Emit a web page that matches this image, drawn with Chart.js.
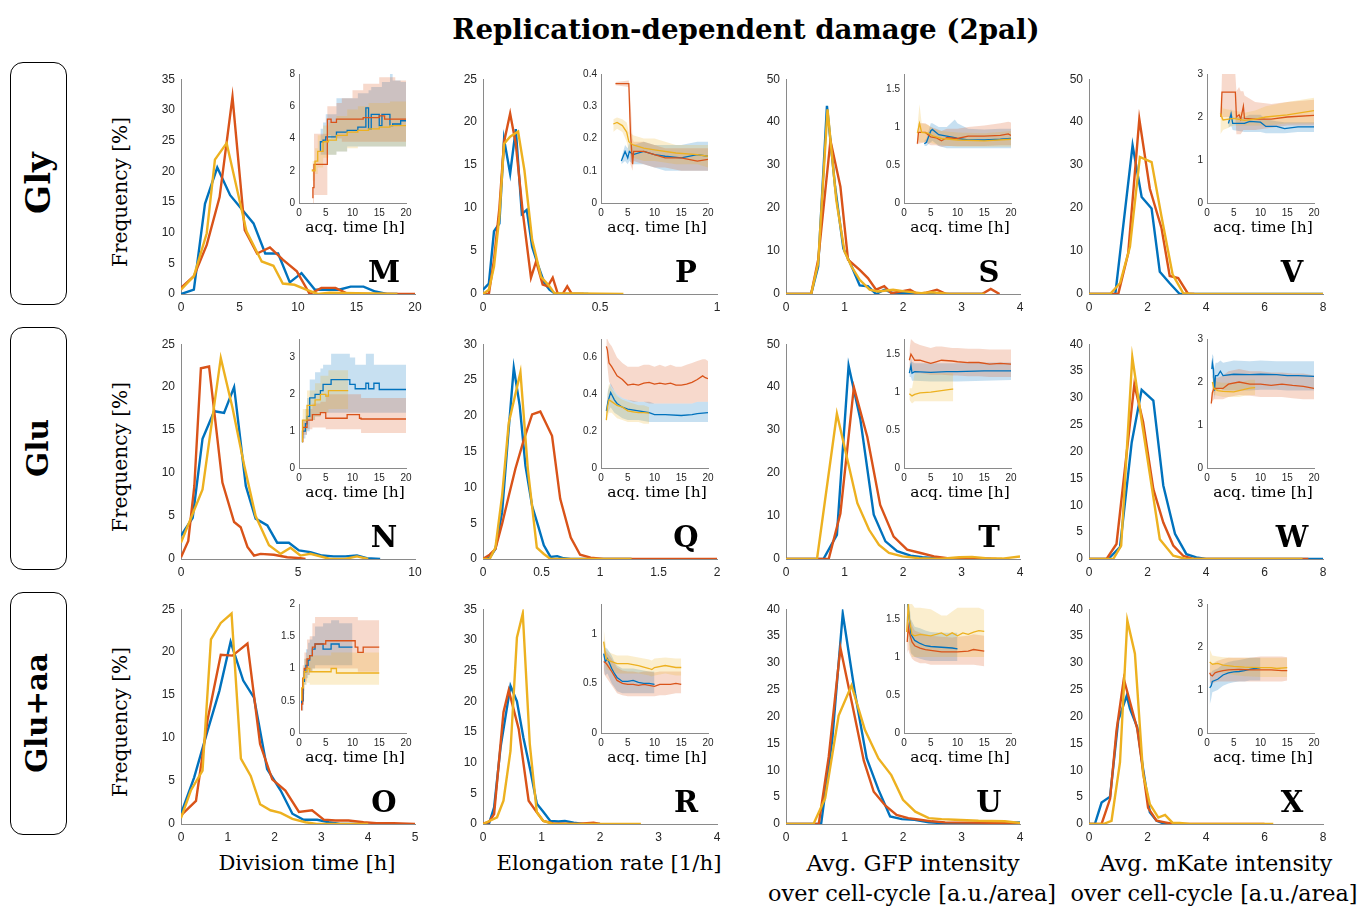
<!DOCTYPE html>
<html lang="en">
<head>
<meta charset="UTF-8">
<title>Replication-dependent damage (2pal)</title>
<script src="https://cdn.jsdelivr.net/npm/chart.js"></script>
<style>
  body { margin: 0; background: #fff; }
  #fig { position: relative; width: 1360px; height: 907px; overflow: hidden; }
  .txt { position: absolute; transform: translate(-50%, -50%); white-space: nowrap;
         font-family: 'DejaVu Serif', serif; color: #000; line-height: 1; }
  .rot { transform: translate(-50%, -50%) rotate(-90deg); }
  .bold { font-weight: bold; }
  .box { position: absolute; border: 1px solid #000; border-radius: 13px; box-sizing: border-box; }
  canvas { position: absolute; }
</style>
</head>
<body>
<div id="fig"></div>
<script>
// colours: blue, orange, yellow (matlab defaults)
const COLORS = ['#0072BD', '#D95319', '#EDB120'];
const BANDS = ['rgba(0,114,189,0.22)', 'rgba(217,83,25,0.22)', 'rgba(237,177,32,0.22)'];

const rowNames = ['Gly', 'Glu', 'Glu+aa'];

// ---- main histograms, [x, frequency %] ----
const M_blue = [[0,0],[1.1,0.7],[2.05,14.7],[3.1,20.6],[4.2,16.1],[5.25,13.7],[6.2,11.5],[7.2,6.6],[8.3,6.6],[9.3,1.9],[10.3,3.4],[11.45,0.7],[12.4,0.7],[13.5,0.7],[14.5,1.2],[15.6,1.2],[16.6,0.4],[17.6,0],[18.5,0]];
const M_orange = [[0,1],[1.1,2.9],[2.2,8],[3.3,15.8],[4.4,32.1],[5.45,10.4],[6.5,6.6],[7.6,7.6],[8.7,5.6],[9.9,3.7],[11,0],[12,1],[13.2,1],[14.3,0],[20,0]];
const M_yellow = [[0,0.7],[1.1,2.9],[2.2,9.9],[2.9,21.9],[3.9,24.6],[5.6,10.2],[6.5,6.8],[6.9,5.3],[7.9,4.6],[8.7,1.7],[9.7,1.5],[10.7,0.7],[11.7,0],[12.7,0.2],[18.5,0]];

const P_blue = [[0,0.5],[0.025,1.2],[0.047,7.3],[0.07,8.2],[0.09,18],[0.116,14],[0.14,19.2],[0.166,9.3],[0.187,9.8],[0.21,5.5],[0.237,3.2],[0.262,1.3],[0.284,0.5],[0.31,0],[0.45,0]];
const P_orange = [[0,0],[0.025,0],[0.047,4],[0.07,10],[0.09,17.7],[0.116,21],[0.14,17.5],[0.17,9.5],[0.205,1.9],[0.227,3.8],[0.255,1.1],[0.277,0.9],[0.298,1.9],[0.32,0],[0.34,0],[0.36,0.9],[0.38,0],[0.43,0]];
const P_yellow = [[0,0],[0.025,0.5],[0.047,3.2],[0.07,9],[0.09,17.5],[0.116,18.3],[0.15,18.9],[0.177,14.4],[0.21,6.3],[0.248,2],[0.284,0.9],[0.305,0.1],[0.6,0]];

const S_blue = [[0,0],[0.43,0],[0.55,6.4],[0.7,43.8],[0.84,24.9],[0.98,10.6],[1.11,6.8],[1.26,2],[1.4,1.8],[1.54,0],[1.68,1],[1.83,0.2],[2.0,0.3],[2.3,0],[3.4,0]];
const S_orange = [[0,0],[0.43,0],[0.55,8],[0.76,35.7],[0.93,25],[1.06,8],[1.26,5.6],[1.4,3.7],[1.54,1],[1.68,1.8],[1.8,0.2],[1.97,0.6],[2.12,1],[2.25,0],[2.4,0.3],[2.58,1],[2.74,0],[3.35,0],[3.5,1.2],[3.65,0]];
const S_yellow = [[0,0],[0.43,0],[0.55,7.2],[0.71,43],[0.86,21.8],[1.0,9.9],[1.12,6.4],[1.26,3.3],[1.43,1],[1.57,0.6],[1.83,1],[2.03,0.6],[2.31,0.2],[2.48,0.4],[2.8,0],[3.4,0]];

const V_blue = [[0,0],[0.9,0],[1.49,34.6],[1.8,22.6],[2.14,19.9],[2.42,5.2],[2.76,2.5],[3.1,0],[8,0]];
const V_orange = [[0,0],[1.0,0],[1.34,9.5],[1.72,40.7],[2.08,24.5],[2.48,15.3],[2.76,4.2],[3.05,3.7],[3.39,0],[3.6,0]];
const V_yellow = [[0,0],[0.72,0],[1.06,2.5],[1.4,11],[1.74,31.9],[2.14,30.7],[2.48,18],[2.86,4.5],[3.22,0.2],[3.56,0],[8,0]];

const N_blue = [[0,2.7],[0.5,4.8],[0.92,14],[1.42,17.2],[1.84,17],[2.27,20],[2.77,8.5],[3.19,4.7],[3.69,3.9],[4.11,1.9],[4.61,1.9],[5.04,1],[5.53,0.8],[6.03,0.4],[6.52,0.3],[7.02,0.3],[7.52,0.4],[7.94,0.1],[8.51,0]];
const N_orange = [[0,0.2],[0.31,2.1],[0.57,8.5],[0.85,22.2],[1.2,22.4],[1.77,8.9],[2.27,4.3],[2.55,3.7],[2.84,1.4],[3.12,0.4],[3.4,0.6],[3.97,0.5],[4.54,0.2],[5.1,0.1],[5.32,0]];
const N_yellow = [[0,1.9],[0.43,4.8],[0.92,8.1],[1.7,23.4],[2.2,17.6],[2.7,10.9],[3.19,5],[3.76,1.6],[4.26,0.6],[4.68,1.3],[5.1,0.4],[5.53,0.6],[6.38,0],[7.0,0],[7.52,0.3],[8.0,0]];

const Q_blue = [[0,0],[0.057,0.2],[0.106,1.4],[0.163,6.5],[0.214,17],[0.263,26.7],[0.314,21.4],[0.363,13],[0.42,7.4],[0.47,4.7],[0.52,1.9],[0.577,0.3],[0.634,0.4],[0.69,0.1],[0.75,0],[1.27,0]];
const Q_orange = [[0,0],[0.057,0.6],[0.106,1.4],[0.163,4.9],[0.22,8.8],[0.277,12.6],[0.35,16.7],[0.42,20.2],[0.49,20.6],[0.59,17.2],[0.66,8.4],[0.75,3],[0.83,0.6],[0.92,0.2],[1.03,0],[2,0]];
const Q_yellow = [[0,0],[0.057,0],[0.106,1.6],[0.163,8.8],[0.22,19],[0.32,26.1],[0.383,12.6],[0.46,1.6],[0.52,0.7],[0.577,0],[1.27,0]];

const T_blue = [[0,0],[0.64,0],[0.87,5.6],[1.07,45],[1.27,32.6],[1.5,10.3],[1.7,4.1],[1.9,1.8],[2.13,0.8],[2.33,0.4],[2.56,0.2],[2.8,0],[3.5,0]];
const T_orange = [[0,0],[0.73,0],[0.93,10.6],[1.16,40],[1.39,28.4],[1.61,12.6],[1.84,5.2],[2.07,2.2],[2.3,1.4],[2.53,0.6],[2.76,0.2],[3.0,0.2],[3.3,0.1],[3.6,0]];
const T_yellow = [[0,0],[0.53,0],[0.87,33.8],[1.22,13],[1.42,6.8],[1.59,3.3],[1.76,1.4],[1.99,0.6],[2.27,0.2],[2.61,0],[2.96,0.4],[3.18,0.5],[3.41,0.2],[3.7,0.1],[4,0.6]];

const W_blue = [[0,0],[0.66,0],[1.06,2.2],[1.46,21.7],[1.8,31.5],[2.2,29.5],[2.54,13.7],[2.94,4.7],[3.33,0.9],[3.67,0.3],[4.0,0],[8,0]];
const W_orange = [[0,0],[0.6,0],[0.94,2.8],[1.55,32.5],[1.85,25.5],[2.2,13],[2.54,6.8],[2.88,2.5],[3.22,0.6],[3.56,0],[7.5,0]];
const W_yellow = [[0,0],[0.83,0],[1.1,2.5],[1.48,37.6],[1.8,25.8],[2.42,3.7],[2.88,0.6],[3.33,0],[7.3,0]];

const O_blue = [[0,1.2],[0.28,5.4],[0.57,10.9],[0.82,15.5],[1.06,21.2],[1.33,16.7],[1.56,14.7],[1.84,6.4],[2.13,3.9],[2.38,1.2],[2.62,0.5],[2.91,0.5],[3.16,0.2],[3.4,0],[4,0]];
const O_orange = [[0,1],[0.32,2.7],[0.57,12.2],[0.85,19.7],[1.1,19.6],[1.42,21],[1.69,9.3],[1.95,5.2],[2.23,3.9],[2.52,1.4],[2.8,1.6],[3.05,0.5],[3.3,0.4],[3.58,0.4],[3.9,0.2],[4.18,0.1],[4.54,0.1],[5,0]];
const O_yellow = [[0,0.7],[0.21,3.9],[0.46,6.2],[0.64,21.5],[0.85,23.4],[1.08,24.5],[1.28,7.6],[1.49,5.6],[1.69,2.3],[1.91,1.6],[2.13,1.3],[2.38,0.6],[2.66,0.2],[2.9,0],[4,0]];

const R_blue = [[0,0],[0.1,0],[0.19,2.7],[0.3,12.5],[0.47,22.5],[0.58,20],[0.69,14.1],[0.81,8.7],[0.92,3.3],[1.03,2],[1.15,0.5],[1.29,0.4],[1.4,0.5],[1.55,0.2],[1.72,0],[2.0,0]];
const R_orange = [[0,0.1],[0.1,0.3],[0.19,1.6],[0.35,18.2],[0.44,21.8],[0.61,15.5],[0.78,3.8],[0.92,1.9],[1.03,0.5],[1.2,0.1],[1.6,0],[1.89,0.2],[2.0,0]];
const R_yellow = [[0,0],[0.24,1.1],[0.35,3.8],[0.47,11.9],[0.58,30.4],[0.68,34.3],[0.8,13],[0.92,1.9],[1.03,0.5],[1.2,0],[2.7,0]];

const U_blue = [[0,0],[0.6,0],[0.79,15.6],[0.97,39.2],[1.18,24.3],[1.38,12.2],[1.58,6.4],[1.78,1.4],[1.98,0.9],[2.2,0.8],[2.44,0.3],[3.0,0],[4,0.3]];
const U_orange = [[0,0],[0.56,0],[0.73,12.5],[0.93,32.8],[1.13,22.4],[1.33,11.8],[1.5,6],[1.7,3.4],[1.89,1.7],[2.09,1.1],[2.29,0.8],[2.49,0.5],[2.72,0.3],[3.74,0.2],[4,0]];
const U_yellow = [[0,0],[0.47,0],[0.67,4.8],[0.9,20.2],[1.12,25.8],[1.35,17.5],[1.58,12.2],[1.8,9.1],[2.0,4.5],[2.21,2.3],[2.44,1.1],[2.66,0.9],[2.89,0.8],[3.29,0.6],[3.74,0.5],[4,0.2]];

const X_blue = [[0,0],[0.2,0],[0.43,4],[0.72,5.1],[1.0,19.3],[1.29,23.9],[1.4,21.5],[1.65,18],[1.85,10.2],[2.08,2.2],[2.31,0.6],[2.6,0],[3,0]];
const X_orange = [[0,0],[0.43,0],[0.72,4.7],[0.94,17.4],[1.19,27],[1.65,17.7],[2.02,3],[2.31,0.6],[2.6,0.3],[2.88,0],[6.0,0]];
const X_yellow = [[0,0],[0.49,0],[0.77,0.6],[1.06,11.5],[1.31,37.9],[1.57,31.7],[1.85,9.3],[2.08,3.7],[2.37,1.2],[2.6,1.7],[2.86,0.2],[3.1,0.2],[3.45,0],[6.3,0]];

// ---- insets vs acquisition time: [t (h), mean, lower, upper] ----
const M_in_blue = [[4,3.2,2.8,3.6],[4.5,3.8,3.0,4.6],[5,3.9,3.0,5.0],[7,4.1,3.0,5.5],[9,4.4,3.2,6.5],[11,4.5,3.5,6.5],[12.5,4.7,3.5,6.8],[13,5.9,3.5,6.8],[13.5,4.6,3.5,7.0],[15,5.5,3.5,7.2],[15.5,4.8,3.5,7.2],[17,5.5,3.5,7.5],[17.5,4.8,3.5,8.0],[19,4.9,3.5,7.6],[20,5.1,3.5,7.5]];
const M_in_orange = [[2.6,0.3,0,0.6],[2.8,0.95,0,1.9],[5.3,2.4,0.5,4.3],[6.0,5.2,4.2,6.0],[7,5.0,4.0,6.0],[8,5.2,4.0,6.2],[10,5.2,3.8,6.5],[12,5.2,3.8,7.0],[15,5.3,3.8,7.4],[16,5.4,3.8,7.8],[18,5.2,3.8,7.8],[20,5.2,3.8,7.6]];
const M_in_yellow = [[2.5,2.1,1.6,2.6],[3,2.0,1.4,2.6],[3.5,2.6,1.8,3.4],[4.5,3.2,2.2,4.2],[5.5,3.8,2.8,4.8],[7,3.9,3.0,5.0],[9,4.2,3.2,5.4],[11,4.4,3.4,5.8],[13,4.5,3.5,6.0],[15,4.6,3.5,6.2],[17,4.7,3.5,6.2],[19,4.8,3.5,6.3],[20,4.8,3.5,6.3]];

const P_in_blue = [[3.8,0.13,0.12,0.14],[4.5,0.16,0.13,0.18],[5,0.14,0.12,0.17],[5.3,0.16,0.13,0.19],[6,0.15,0.12,0.18],[8,0.16,0.12,0.19],[10,0.15,0.11,0.18],[12,0.145,0.1,0.18],[15,0.14,0.1,0.18],[18,0.15,0.1,0.19],[20,0.145,0.1,0.19]];
const P_in_orange = [[2.7,0.37,0.365,0.375],[5.2,0.37,0.36,0.38],[5.5,0.22,0.12,0.32],[5.9,0.12,0.1,0.2],[6.1,0.16,0.13,0.19],[8,0.16,0.12,0.19],[10,0.15,0.11,0.18],[12,0.14,0.11,0.17],[15,0.14,0.1,0.17],[18,0.13,0.1,0.17],[20,0.135,0.1,0.17]];
const P_in_yellow = [[2.3,0.245,0.22,0.26],[3,0.25,0.23,0.265],[4,0.24,0.22,0.26],[4.8,0.22,0.19,0.25],[5.2,0.19,0.16,0.22],[6,0.18,0.14,0.21],[8,0.17,0.13,0.2],[10,0.165,0.13,0.2],[14,0.155,0.12,0.18],[18,0.15,0.12,0.18],[20,0.145,0.11,0.18]];

const S_in_blue = [[3.8,0.78,0.75,0.82],[4.2,0.8,0.75,0.85],[5,0.95,0.8,1.05],[5.3,0.97,0.82,1.05],[6.5,0.9,0.75,1.0],[8,0.88,0.72,1.0],[9.5,0.86,0.72,1.1],[10,0.85,0.72,1.05],[12,0.83,0.72,0.98],[15,0.83,0.72,0.97],[18,0.84,0.72,0.98],[20,0.85,0.72,0.98]];
const S_in_orange = [[2.5,0.78,0.76,0.8],[2.7,0.93,0.78,1.05],[4,0.93,0.8,1.05],[5,0.87,0.76,1.0],[6,0.86,0.76,0.98],[7,0.82,0.74,0.95],[8,0.86,0.75,0.98],[10,0.85,0.75,0.98],[12,0.88,0.75,1.0],[15,0.88,0.75,1.02],[18,0.89,0.76,1.05],[19.5,0.91,0.76,1.07],[20,0.89,0.76,1.06]];
const S_in_yellow = [[2.5,0.92,0.85,1.0],[2.9,1.05,0.8,1.3],[3.3,0.93,0.8,1.05],[4.5,0.92,0.8,1.03],[5.5,0.88,0.78,0.98],[7,0.85,0.76,0.95],[10,0.83,0.74,0.93],[15,0.82,0.74,0.92],[20,0.84,0.74,0.95]];

const V_in_blue = [[4,1.85,1.75,1.95],[4.5,2.07,1.8,2.2],[4.8,1.85,1.7,2.0],[7,1.85,1.65,2.0],[8,1.9,1.65,2.05],[10,1.88,1.65,2.05],[11,1.78,1.62,1.95],[13,1.78,1.62,1.9],[14.5,1.73,1.62,1.88],[17,1.77,1.65,1.88],[20,1.77,1.65,1.88]];
const V_in_orange = [[2.6,2.0,1.9,2.1],[2.8,2.58,2.0,3.0],[5.3,2.58,2.0,3.0],[5.5,2.0,1.6,2.6],[6,2.05,1.6,2.7],[6.3,1.95,1.6,2.6],[6.8,2.25,1.7,2.6],[7,1.97,1.7,2.5],[9,1.95,1.7,2.35],[12,1.95,1.75,2.3],[15,2.0,1.8,2.35],[20,2.04,1.8,2.4]];
const V_in_yellow = [[2.5,2.08,1.6,2.5],[3,1.93,1.7,2.2],[5,1.97,1.8,2.15],[7,1.92,1.8,2.1],[9,1.95,1.8,2.15],[11,2.0,1.8,2.25],[15,2.05,1.85,2.35],[20,2.15,1.85,2.45]];

const N_in_blue = [[0.65,0.7,0.6,0.8],[1.2,1.0,0.8,1.3],[1.5,1.2,0.9,1.6],[2,1.4,1.0,1.9],[3,1.9,1.3,2.4],[4,2.0,1.4,2.6],[4.5,2.1,1.5,2.7],[6,2.27,1.5,2.8],[9.5,2.4,1.5,3.1],[10.5,2.27,1.5,3.0],[12.5,2.15,1.5,2.8],[13,2.3,1.5,3.1],[14,2.15,1.5,3.1],[15,2.3,1.5,2.8],[15.5,2.13,1.5,2.8],[20,2.13,1.5,2.8]];
const N_in_orange = [[0.7,0.7,0.6,0.8],[1.5,1.1,0.9,1.3],[2.5,1.3,1.05,1.6],[4,1.45,1.1,1.75],[5,1.5,1.1,1.8],[9,1.35,1.05,2.0],[11.3,1.45,1.05,2.0],[11.6,1.35,1.05,2.0],[20,1.33,0.95,1.9]];
const N_in_yellow = [[0.65,0.7,0.6,0.8],[1.5,1.3,1.0,1.6],[3,1.7,1.3,2.1],[4,1.85,1.4,2.3],[5,2.0,1.5,2.5],[5.5,1.95,1.5,2.5],[6.5,2.1,1.6,2.65],[9.2,2.1,1.6,2.65]];

const Q_in_blue = [[1,0.31,0.3,0.32],[1.3,0.36,0.3,0.42],[1.8,0.41,0.33,0.46],[2.5,0.37,0.3,0.42],[3,0.35,0.29,0.4],[4,0.33,0.27,0.38],[5,0.32,0.26,0.37],[7,0.31,0.26,0.36],[9,0.3,0.25,0.36],[10,0.29,0.25,0.35],[12,0.29,0.25,0.35],[15,0.285,0.25,0.35],[17,0.29,0.25,0.35],[18,0.295,0.25,0.36],[20,0.3,0.25,0.36]];
const Q_in_orange = [[1,0.66,0.6,0.7],[1.2,0.64,0.55,0.7],[1.5,0.57,0.47,0.68],[2,0.55,0.44,0.66],[3,0.5,0.4,0.6],[4,0.48,0.38,0.57],[5,0.45,0.37,0.55],[6,0.455,0.36,0.55],[7,0.45,0.36,0.55],[8,0.46,0.36,0.56],[9,0.465,0.35,0.56],[10,0.455,0.35,0.55],[11,0.46,0.35,0.56],[12,0.455,0.35,0.55],[13,0.46,0.35,0.56],[14,0.45,0.35,0.55],[15,0.45,0.35,0.55],[16,0.455,0.35,0.56],[17,0.465,0.35,0.57],[18,0.48,0.36,0.58],[19,0.5,0.36,0.59],[19.5,0.49,0.36,0.59],[20,0.485,0.36,0.58]];
const Q_in_yellow = [[1,0.26,0.25,0.27],[1.2,0.33,0.28,0.4],[1.5,0.37,0.3,0.46],[2,0.36,0.3,0.43],[3,0.34,0.27,0.39],[4,0.33,0.26,0.37],[5,0.31,0.25,0.36],[6,0.305,0.25,0.35],[7,0.3,0.25,0.34],[8,0.3,0.24,0.34],[9,0.298,0.24,0.33]];

const T_in_blue = [[1,1.25,1.2,1.3],[1.3,1.35,1.2,1.45],[1.5,1.25,1.15,1.4],[2,1.27,1.15,1.38],[5,1.26,1.14,1.38],[8,1.27,1.14,1.38],[10,1.27,1.14,1.38],[15,1.28,1.15,1.39],[20,1.28,1.16,1.39]];
const T_in_orange = [[1,1.42,1.3,1.55],[1.3,1.5,1.3,1.7],[2,1.42,1.25,1.65],[3,1.42,1.25,1.62],[4,1.4,1.24,1.6],[5,1.38,1.23,1.58],[6,1.4,1.23,1.6],[7,1.42,1.23,1.6],[9,1.41,1.22,1.58],[10,1.4,1.22,1.58],[12,1.39,1.21,1.57],[14,1.39,1.21,1.57],[16,1.37,1.2,1.56],[18,1.38,1.2,1.56],[20,1.37,1.2,1.56]];
const T_in_yellow = [[1,0.98,0.9,1.05],[1.5,0.95,0.85,1.05],[2,0.97,0.88,1.25],[3,0.99,0.88,1.25],[5,1.0,0.88,1.25],[7,1.02,0.88,1.25],[9,1.04,0.88,1.25],[9.2,1.04,0.88,1.25]];

const W_in_blue = [[0.9,2.3,2.1,2.55],[1.0,2.45,2.1,2.65],[1.2,2.3,2.0,2.6],[1.4,1.8,1.6,2.3],[1.6,2.15,1.8,2.45],[2,2.15,1.8,2.45],[2.5,2.25,1.85,2.5],[3,2.15,1.8,2.45],[5,2.18,1.8,2.5],[8,2.17,1.8,2.48],[10,2.18,1.82,2.5],[13,2.17,1.82,2.48],[15,2.15,1.8,2.48],[17,2.15,1.8,2.48],[20,2.13,1.8,2.48]];
const W_in_orange = [[0.8,1.5,1.4,1.6],[1.0,1.75,1.55,1.95],[1.3,1.85,1.6,2.1],[2,1.85,1.6,2.1],[3,1.85,1.6,2.15],[4,1.95,1.65,2.25],[6,2.0,1.7,2.3],[8,1.95,1.68,2.25],[10,1.95,1.65,2.25],[12,1.92,1.65,2.22],[14,1.95,1.65,2.22],[16,1.92,1.62,2.2],[18,1.9,1.6,2.2],[20,1.85,1.6,2.15]];
const W_in_yellow = [[1.0,2.0,1.8,2.2],[1.3,1.85,1.7,2.05],[2,1.8,1.68,2.0],[3,1.78,1.65,1.98],[5,1.77,1.65,1.98],[6,1.8,1.65,2.0],[7,1.83,1.68,2.02],[8,1.86,1.7,2.05],[9,1.87,1.7,2.05]];

const O_in_blue = [[0.5,0.45,0.35,0.55],[0.8,0.5,0.35,0.65],[1,0.8,0.6,1.0],[1.3,0.95,0.75,1.15],[1.7,1.05,0.85,1.3],[2,1.13,0.9,1.4],[2.5,1.2,0.95,1.45],[3,1.3,1.0,1.5],[4.5,1.38,1.05,1.65],[6,1.3,1.05,1.7],[7.5,1.38,1.05,1.75],[8.7,1.33,1.05,1.7],[10,1.33,1.05,1.7]];
const O_in_orange = [[0.5,0.35,0.3,0.45],[0.7,0.45,0.35,0.55],[1,0.85,0.65,1.05],[1.5,1.0,0.8,1.25],[2,1.15,0.9,1.45],[2.5,1.2,0.95,1.5],[3,1.33,1.0,1.7],[5,1.38,1.0,1.8],[10.5,1.43,1.0,1.8],[11,1.33,1.0,1.8],[12,1.25,0.95,1.75],[12.5,1.33,0.95,1.75],[15,1.33,0.95,1.75]];
const O_in_yellow = [[0.5,0.5,0.45,0.55],[0.8,0.7,0.55,0.85],[1,0.85,0.7,1.0],[1.5,0.95,0.75,1.15],[2,1.0,0.78,1.2],[6,0.95,0.75,1.2],[7,1.0,0.75,1.25],[12.3,0.93,0.75,1.25],[15,0.93,0.75,1.25]];

const R_in_blue = [[0.5,0.8,0.65,0.95],[0.8,0.72,0.58,0.86],[1.2,0.75,0.6,0.85],[2,0.65,0.5,0.78],[2.5,0.6,0.46,0.72],[3,0.56,0.42,0.68],[4,0.52,0.4,0.65],[5,0.52,0.4,0.65],[6,0.53,0.4,0.65],[7,0.51,0.4,0.64],[8,0.5,0.4,0.63],[9,0.5,0.4,0.62],[10,0.49,0.4,0.62]];
const R_in_orange = [[0.5,0.72,0.6,0.85],[1,0.7,0.56,0.82],[2,0.62,0.48,0.75],[3,0.53,0.4,0.66],[4,0.5,0.38,0.63],[5,0.49,0.37,0.62],[6,0.49,0.37,0.62],[7,0.48,0.37,0.61],[8,0.49,0.37,0.62],[9,0.48,0.37,0.62],[10,0.47,0.37,0.61],[11,0.49,0.38,0.62],[12,0.49,0.38,0.62],[13,0.49,0.39,0.62],[14,0.5,0.4,0.62],[15,0.49,0.4,0.62]];
const R_in_yellow = [[0.5,0.92,0.8,1.05],[0.8,0.8,0.68,0.92],[1,0.75,0.64,0.85],[1.5,0.73,0.63,0.82],[2,0.72,0.62,0.8],[3,0.7,0.6,0.78],[5,0.7,0.6,0.78],[7,0.68,0.6,0.76],[9,0.65,0.58,0.74],[9.5,0.64,0.57,0.73],[10,0.66,0.58,0.75],[12,0.68,0.6,0.76],[14,0.66,0.58,0.75],[15,0.66,0.58,0.75]];

const U_in_blue = [[0.7,1.7,1.4,1.75],[1,1.5,1.2,1.7],[1.3,1.3,1.05,1.5],[2,1.22,1.0,1.4],[3,1.18,0.98,1.38],[4,1.15,0.96,1.35],[5,1.14,0.95,1.33],[7,1.13,0.95,1.32],[9,1.12,0.95,1.32],[10,1.11,0.95,1.32]];
const U_in_orange = [[0.6,1.2,1.05,1.35],[0.8,1.4,1.1,1.6],[1,1.32,1.05,1.55],[1.5,1.2,0.98,1.42],[2,1.15,0.95,1.35],[3,1.12,0.92,1.32],[4,1.1,0.92,1.3],[5,1.09,0.9,1.28],[7,1.07,0.9,1.27],[9,1.07,0.9,1.26],[10,1.07,0.9,1.27],[12,1.08,0.9,1.28],[13,1.1,0.9,1.3],[15,1.08,0.88,1.28]];
const U_in_yellow = [[0.5,1.33,1.1,1.6],[0.8,1.7,1.3,1.75],[1,1.5,1.1,1.75],[1.5,1.3,1.0,1.7],[2,1.28,1.0,1.65],[3,1.3,1.0,1.65],[5,1.28,1.0,1.63],[7,1.32,1.0,1.55],[8,1.28,1.0,1.55],[9,1.32,1.0,1.6],[10,1.28,1.0,1.65],[11,1.32,1.0,1.65],[12,1.3,1.0,1.65],[13,1.33,1.0,1.65],[14,1.35,1.0,1.65],[15,1.34,1.0,1.62]];

const X_in_blue = [[0.5,1.05,0.65,1.4],[0.8,1.1,0.8,1.4],[1,1.2,0.95,1.45],[2,1.25,1.0,1.5],[3,1.35,1.1,1.6],[4,1.4,1.15,1.65],[5,1.42,1.18,1.68],[6,1.43,1.2,1.7],[7,1.45,1.2,1.72],[8,1.48,1.22,1.75],[9,1.5,1.22,1.75],[10,1.52,1.22,1.75]];
const X_in_orange = [[0.5,1.4,1.2,1.65],[0.7,1.35,1.15,1.6],[1,1.33,1.15,1.58],[1.5,1.4,1.18,1.65],[2,1.42,1.2,1.68],[3,1.45,1.2,1.72],[4,1.47,1.2,1.75],[6,1.48,1.2,1.75],[8,1.47,1.2,1.75],[10,1.47,1.2,1.78],[12,1.47,1.2,1.78],[14,1.45,1.2,1.78],[15,1.45,1.22,1.76]];
const X_in_yellow = [[0.5,1.65,1.4,1.95],[1,1.6,1.4,1.8],[2,1.62,1.42,1.78],[3,1.58,1.4,1.76],[5,1.55,1.35,1.75],[7,1.53,1.32,1.75],[10,1.52,1.3,1.75],[12,1.52,1.3,1.75],[13,1.5,1.3,1.75],[15,1.52,1.3,1.75]];

// tick values
const tk_time = [0, 5, 10, 15, 20];

const panels = [
  { id: 'M', row: 0, col: 0, lines: [M_blue, M_orange, M_yellow], xt: [0,5,10,15,20], yt: [0,5,10,15,20,25,30,35],
    inset: [M_in_blue, M_in_orange, M_in_yellow], it: [0,2,4,6,8], imax: 8, stepped: true },
  { id: 'P', row: 0, col: 1, lines: [P_blue, P_orange, P_yellow], xt: [0,0.5,1], yt: [0,5,10,15,20,25],
    inset: [P_in_blue, P_in_orange, P_in_yellow], it: [0,0.1,0.2,0.3,0.4], imax: 0.4 },
  { id: 'S', row: 0, col: 2, lines: [S_blue, S_orange, S_yellow], xt: [0,1,2,3,4], yt: [0,10,20,30,40,50],
    inset: [S_in_blue, S_in_orange, S_in_yellow], it: [0,0.5,1,1.5], imax: 1.7 },
  { id: 'V', row: 0, col: 3, lines: [V_blue, V_orange, V_yellow], xt: [0,2,4,6,8], yt: [0,10,20,30,40,50],
    inset: [V_in_blue, V_in_orange, V_in_yellow], it: [0,1,2,3], imax: 3 },
  { id: 'N', row: 1, col: 0, lines: [N_blue, N_orange, N_yellow], xt: [0,5,10], yt: [0,5,10,15,20,25],
    inset: [N_in_blue, N_in_orange, N_in_yellow], it: [0,1,2,3], imax: 3.5, stepped: true },
  { id: 'Q', row: 1, col: 1, lines: [Q_blue, Q_orange, Q_yellow], xt: [0,0.5,1,1.5,2], yt: [0,5,10,15,20,25,30],
    inset: [Q_in_blue, Q_in_orange, Q_in_yellow], it: [0,0.2,0.4,0.6], imax: 0.7 },
  { id: 'T', row: 1, col: 2, lines: [T_blue, T_orange, T_yellow], xt: [0,1,2,3,4], yt: [0,10,20,30,40,50],
    inset: [T_in_blue, T_in_orange, T_in_yellow], it: [0,0.5,1,1.5], imax: 1.7 },
  { id: 'W', row: 1, col: 3, lines: [W_blue, W_orange, W_yellow], xt: [0,2,4,6,8], yt: [0,5,10,15,20,25,30,35,40],
    inset: [W_in_blue, W_in_orange, W_in_yellow], it: [0,1,2,3], imax: 3 },
  { id: 'O', row: 2, col: 0, lines: [O_blue, O_orange, O_yellow], xt: [0,1,2,3,4,5], yt: [0,5,10,15,20,25],
    inset: [O_in_blue, O_in_orange, O_in_yellow], it: [0,0.5,1,1.5,2], imax: 2, stepped: true },
  { id: 'R', row: 2, col: 1, lines: [R_blue, R_orange, R_yellow], xt: [0,1,2,3,4], yt: [0,5,10,15,20,25,30,35],
    inset: [R_in_blue, R_in_orange, R_in_yellow], it: [0,0.5,1], imax: 1.3 },
  { id: 'U', row: 2, col: 2, lines: [U_blue, U_orange, U_yellow], xt: [0,1,2,3,4], yt: [0,5,10,15,20,25,30,35,40],
    inset: [U_in_blue, U_in_orange, U_in_yellow], it: [0,0.5,1,1.5], imax: 1.7 },
  { id: 'X', row: 2, col: 3, lines: [X_blue, X_orange, X_yellow], xt: [0,2,4,6,8], yt: [0,5,10,15,20,25,30,35,40],
    inset: [X_in_blue, X_in_orange, X_in_yellow], it: [0,1,2,3], imax: 3 }
];

const colLeft = [181, 483, 786, 1089];
const rowTop = [78, 343, 608];
const PW = 234, PH = 216;     // main plot area
const IW = 107, IH = 130;     // inset plot area

const fig = document.getElementById('fig');
Chart.defaults.font.family = "'Liberation Sans', Arial, sans-serif";
Chart.defaults.color = '#262626';

const fmt = v => String(Math.round(v * 1000) / 1000);

function addText(str, x, y, size, cls, fitW) {
  const d = document.createElement('div');
  d.className = 'txt ' + (cls || '');
  d.textContent = str;
  d.style.left = x + 'px';
  d.style.top = y + 'px';
  d.style.fontSize = size + 'px';
  fig.appendChild(d);
  if (fitW) {
    const w = d.offsetWidth;
    d.style.fontSize = (size * fitW / w).toFixed(2) + 'px';
  }
  return d;
}

function axis(ticks, max, fontSize, pad, fixed, isX) {
  const o = {
    type: 'linear', min: ticks[0], max: max,
    afterBuildTicks: s => { s.ticks = ticks.map(v => ({ value: v })); },
    grid: { display: false, drawTicks: false },
    border: { color: '#8a8a8a', width: 1 },
    ticks: { font: { size: fontSize }, color: '#262626', padding: pad, maxRotation: 0, autoSkip: false, callback: v => fmt(v) }
  };
  if (isX) o.afterFit = s => { s.height = fixed; };
  else o.afterFit = s => { s.width = fixed; };
  return o;
}

function makeChart(left, top, padL, padT, w, h, padR, padB, datasets, scales) {
  const cv = document.createElement('canvas');
  const W = padL + w + padR, H = padT + h + padB;
  cv.width = W; cv.height = H;
  cv.style.left = (left - padL) + 'px';
  cv.style.top = (top - padT) + 'px';
  cv.style.width = W + 'px'; cv.style.height = H + 'px';
  fig.appendChild(cv);
  return new Chart(cv.getContext('2d'), {
    type: 'line',
    data: { datasets },
    options: {
      responsive: false, animation: false, events: [],
      layout: { padding: { left: 0, top: padT, right: padR, bottom: 0 } },
      plugins: { legend: { display: false }, tooltip: { enabled: false } },
      scales
    }
  });
}

panels.forEach(p => {
  const L = colLeft[p.col], T = rowTop[p.row];

  // main histogram: yellow on top, then orange, blue
  const mainSets = [2, 1, 0].map(k => ({
    data: p.lines[k].map(([x, y]) => ({ x, y })),
    borderColor: COLORS[k], borderWidth: 2.4, pointRadius: 0, fill: false, tension: 0
  }));
  makeChart(L, T, 40, 12, PW, PH, 16, 24, mainSets, {
    x: axis(p.xt, p.xt[p.xt.length - 1], 12, 6, 24, true),
    y: axis(p.yt, p.yt[p.yt.length - 1], 12, 6, 40, false)
  });

  // inset: mean lines on top, shaded bands below
  const st = p.stepped ? 'after' : false;
  const ins = [];
  [2, 1, 0].forEach(k => ins.push({
    data: p.inset[k].map(r => ({ x: r[0], y: r[1] })),
    borderColor: COLORS[k], borderWidth: 1.3, pointRadius: 0, fill: false, stepped: st
  }));
  [2, 1, 0].forEach(k => {
    const i = ins.length;
    ins.push({ data: p.inset[k].map(r => ({ x: r[0], y: r[2] })),
      borderColor: 'transparent', borderWidth: 0, pointRadius: 0, fill: false, stepped: st });
    ins.push({ data: p.inset[k].map(r => ({ x: r[0], y: r[3] })),
      borderColor: 'transparent', borderWidth: 0, pointRadius: 0, fill: i, backgroundColor: BANDS[k], stepped: st });
  });
  const IL = L + 118, IT = T - 5;
  makeChart(IL, IT, 30, 9, IW, IH, 12, 18, ins, {
    x: axis(tk_time, 20, 10, 4, 18, true),
    y: axis(p.it, p.imax, 10, 4, 30, false)
  });

  addText('acq. time [h]', IL + 56, IT + 155, 13, '', 100);
  addText(p.id, L + 203, T + 194, 29, 'bold');
});

// titles and labels
addText('Replication-dependent damage (2pal)', 746, 30, 26, 'bold', 587);

rowNames.forEach((name, r) => {
  const b = document.createElement('div');
  b.className = 'box';
  b.style.left = '10px'; b.style.width = '57px';
  b.style.top = (62 + r * 265) + 'px'; b.style.height = '243px';
  fig.appendChild(b);
  addText(name, 38, 183 + r * 265, 28, 'bold rot', [62, 58, 120][r]);
  addText('Frequency [%]', 120, rowTop[r] + 114, 20, 'rot', 150);
});

addText('Division time [h]', 307, 863, 20, '', 177);
addText('Elongation rate [1/h]', 609, 863, 20, '', 225);
addText('Avg. GFP intensity', 913, 863, 20, '', 213);
addText('over cell-cycle [a.u./area]', 912, 893, 20, '', 288);
addText('Avg. mKate intensity', 1216, 863, 20, '', 233);
addText('over cell-cycle [a.u./area]', 1214, 893, 20, '', 287);
</script>
</body>
</html>
